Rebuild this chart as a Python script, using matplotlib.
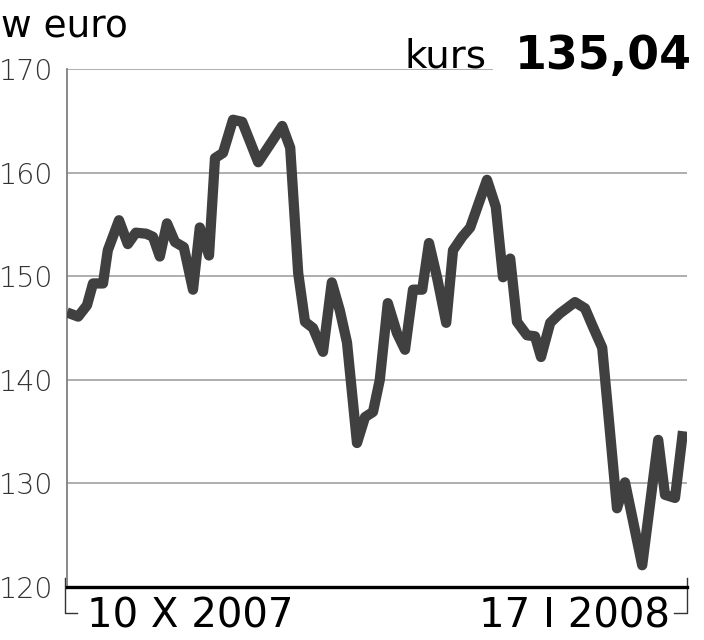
import matplotlib.pyplot as plt

# notowania: numer sesji (10 X 2007 = 0) i kurs w euro
sesja = [0, 1.4, 2.5, 3.25, 4.5, 5.1, 6.5, 7.6, 8.6, 9.9, 10.75, 11.6, 12.5,
         13.5, 14.6, 15.75, 16.6, 17.75, 18.5, 19.5, 20.75, 21.9, 23.9, 26.9,
         27.9, 28.9, 29.75, 30.75, 32, 33.1, 34.1, 35, 36.25, 37.25, 38.25,
         39.1, 40.1, 41.25, 42.25, 43.25, 44.4, 45.25, 46.25, 47.4, 48.25,
         49.4, 50.4, 51.4, 52.5, 53.6, 54.5, 55.4, 56.25, 57.5, 58.5, 59.25,
         60.4, 61.6, 63.5, 64.75, 65.75, 66.9, 67.5, 68.75, 69.75, 71.9, 73.9,
         74.75, 76, 77]
kurs = [146.5, 146.1, 147.2, 149.3, 149.3, 152.5, 155.4, 153.1, 154.2, 154.1,
        153.8, 151.9, 155.1, 153.3, 152.8, 148.7, 154.7, 152.0, 161.4, 161.9,
        165.1, 164.9, 161.0, 164.5, 162.4, 150.3, 145.6, 145.0, 142.7, 149.4,
        146.7, 143.6, 133.9, 136.4, 136.9, 140.0, 147.4, 144.5, 142.9, 148.7,
        148.7, 153.2, 149.9, 145.5, 152.5, 153.8, 154.7, 156.9, 159.3, 156.7,
        149.9, 151.7, 145.6, 144.3, 144.2, 142.2, 145.5, 146.4, 147.5, 146.9,
        145.1, 143.1, 138.1, 127.6, 130.1, 122.1, 134.2, 128.9, 128.6, 135.04]
yticks = [120, 130, 140, 150, 160, 170]
data_od = '10 X 2007'
data_do = '17 I 2008'

fig = plt.figure(figsize=(7.04, 6.4), dpi=100)
ax = fig.add_axes([67 / 704, 1 - 587 / 640, 620 / 704, 518 / 640])

for y in yticks[1:-1]:
    ax.axhline(y, color='#a8a8a8', lw=1.3, zorder=1)
ax.axhline(170, xmax=0.685, color='#a8a8a8', lw=1.3, zorder=1)

ax.plot(sesja, kurs, color='#404040', lw=7.4, solid_joinstyle='round',
        solid_capstyle='butt', zorder=3)

ax.set_xlim(0, 77.5)
ax.set_ylim(120, 170)
ax.set_xticks([])
ax.set_yticks(yticks)
ax.set_yticklabels([str(t) for t in yticks], fontsize=20.5, color='#333333',
                   fontweight='light')
ax.tick_params(axis='y', length=0, pad=10)
for s in ['top', 'right']:
    ax.spines[s].set_visible(False)
ax.spines['left'].set_color('#808080')
ax.spines['left'].set_linewidth(1.3)
ax.spines['bottom'].set_color('black')
ax.spines['bottom'].set_linewidth(2.4)

# klamry przy datach
ax.plot([-0.003, -0.003, 0.016], [0.017, -0.05, -0.05], color='#333333',
        lw=1, transform=ax.transAxes, clip_on=False)
ax.plot([0.979, 1.0, 1.0], [-0.05, -0.05, 0.017], color='#333333',
        lw=1, transform=ax.transAxes, clip_on=False)

fig.text(87 / 704, 1 - 628 / 640, data_od, fontsize=29, ha='left', va='baseline')
fig.text(670 / 704, 1 - 628 / 640, data_do, fontsize=29, ha='right', va='baseline')

fig.text(1 / 704, 1 - 38 / 640, 'w euro', fontsize=27, ha='left', va='baseline')
fig.text(487 / 704, 1 - 68 / 640, 'kurs', fontsize=28, ha='right', va='baseline')
fig.text(692 / 704, 1 - 69 / 640, '135,04', fontsize=33, fontweight='bold',
         ha='right', va='baseline')

fig.savefig('out.png', dpi=100)
